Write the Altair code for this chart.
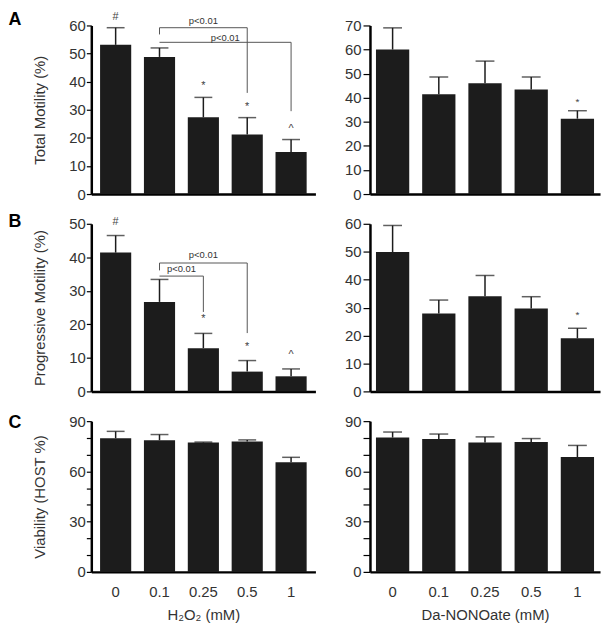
import altair as alt
import pandas as pd

DOSES = ["0", "0.1", "0.25", "0.5", "1"]

# Panel A: total motility (%)
a_h2o2_mean = [53.1, 48.8, 27.3, 21.2, 15.0]
a_h2o2_upper = [59.2, 52.0, 34.4, 27.2, 19.4]
a_h2o2_sig = ["#", "", "*", "*", "^"]
a_nono_mean = [60.0, 41.4, 46.0, 43.4, 31.3]
a_nono_upper = [69.0, 48.6, 55.2, 48.6, 34.6]
a_nono_sig = ["", "", "", "", "*"]

# Panel B: progressive motility (%)
b_h2o2_mean = [41.4, 26.7, 12.9, 5.9, 4.5]
b_h2o2_upper = [46.5, 33.4, 17.3, 9.2, 6.7]
b_h2o2_sig = ["#", "", "*", "*", "^"]
b_nono_mean = [49.9, 27.9, 34.1, 29.7, 19.0]
b_nono_upper = [59.4, 32.7, 41.5, 33.9, 22.6]
b_nono_sig = ["", "", "", "", "*"]

# Panel C: viability (HOST %)
c_h2o2_mean = [79.8, 78.6, 77.2, 77.8, 65.4]
c_h2o2_upper = [83.9, 82.0, 77.5, 78.8, 68.4]
c_nono_mean = [80.2, 79.4, 77.3, 77.5, 68.6]
c_nono_upper = [83.5, 82.3, 80.6, 79.6, 75.5]
no_sig = ["", "", "", "", ""]

# significance brackets
a_brk_from = ["0.1", "0.1"]
a_brk_to = ["0.5", "1"]
a_brk_level = [59.2, 54.0]
a_brk_left_end = [56.8, 54.0]
a_brk_right_end = [36.0, 29.5]
a_brk_label_y = [61.7, 55.4]
a_brk_text = ["p<0.01", "p<0.01"]

b_brk_from = ["0.1", "0.1"]
b_brk_to = ["0.5", "0.25"]
b_brk_level = [38.3, 34.4]
b_brk_left_end = [36.1, 34.4]
b_brk_right_end = [17.4, 23.7]
b_brk_label_y = [40.6, 36.4]
b_brk_text = ["p<0.01", "p<0.01"]

FONT = "Liberation Sans"
BAR = "#1c1c1c"
LINE = "#555555"


def panel(mean, upper, sig, ymax, width, height, pi, po, ytitle, letter,
          letter_dy, xtitle, show_x, tick_values, label_mod, sig_dy, sig_size,
          cap, tick_size, label_pad, brackets=None):
    df = pd.DataFrame({"dose": DOSES, "mean": mean, "upper": upper, "sig": sig})
    xscale = alt.Scale(domain=DOSES, paddingInner=pi, paddingOuter=po)
    if show_x:
        xaxis = alt.Axis(title=xtitle, labelAngle=0, ticks=False, labelPadding=13,
                         titlePadding=8, domainWidth=2.5, domainColor="black",
                         labelFontSize=15, titleFontSize=15, labelColor="#333",
                         titleColor="#333", titleFontWeight="normal", labelFont=FONT,
                         titleFont=FONT)
    else:
        xaxis = alt.Axis(title="", labels=False, ticks=False, domainWidth=2.5,
                         domainColor="black")
    label_expr = f"datum.value % {label_mod} === 0 ? datum.label : ''"
    yaxis = alt.Axis(title=ytitle, values=tick_values, labelExpr=label_expr,
                     grid=False, tickSize=tick_size, tickWidth=1.2, tickColor="black",
                     labelPadding=label_pad, domainWidth=2.5, domainColor="black",
                     labelFontSize=15, titleFontSize=15, labelColor="#333",
                     titleColor="#333", titleFontWeight="normal", labelFont=FONT,
                     titleFont=FONT, titlePadding=22)
    yscale = alt.Scale(domain=[0, ymax], nice=False, zero=True)

    def X(f):
        return alt.X(f"{f}:N", scale=xscale, axis=xaxis)

    def Y(f):
        return alt.Y(f"{f}:Q", scale=yscale, axis=yaxis)

    base = alt.Chart(df)
    bars = base.mark_bar(color=BAR).encode(x=X("dose"), y=Y("mean"))
    whisk = base.mark_rule(color=BAR, strokeWidth=1.5).encode(
        x=X("dose"), y=Y("mean"), y2=alt.Y2("upper:Q"))
    caps = base.mark_tick(color=BAR, size=cap, thickness=1.5).encode(
        x=X("dose"), y=Y("upper"))
    sigs = base.mark_text(fontSize=sig_size, color="#444", dy=sig_dy,
                          baseline="middle", font=FONT).encode(
        x=X("dose"), y=Y("upper"), text="sig:N")
    letter_layer = alt.Chart(pd.DataFrame({"t": [letter]})).mark_text(
        fontSize=18, fontWeight="bold", font=FONT, color="black",
        baseline="middle", align="center").encode(
        text="t:N", x=alt.value(-77), y=alt.value(letter_dy))
    layers = [bars, whisk, caps, sigs, letter_layer]

    if brackets is not None:
        frm, to, level, lend, rend, laby, txt = brackets
        bdf = pd.DataFrame({"from": frm, "to": to, "level": level, "lend": lend,
                            "rend": rend, "laby": laby, "txt": txt})
        bb = alt.Chart(bdf)
        layers.append(bb.mark_rule(color=LINE, strokeWidth=1).encode(
            x=X("from"), x2=alt.X2("to:N"), y=Y("level")))
        layers.append(bb.mark_rule(color=LINE, strokeWidth=1).encode(
            x=X("from"), y=Y("level"), y2=alt.Y2("lend:Q")))
        layers.append(bb.mark_rule(color=LINE, strokeWidth=1).encode(
            x=X("to"), y=Y("level"), y2=alt.Y2("rend:Q")))
        step = width / (len(DOSES) - pi + 2 * po)
        for i in range(len(frm)):
            span = DOSES.index(to[i]) - DOSES.index(frm[i])
            one = bdf.iloc[[i]]
            layers.append(alt.Chart(one).mark_text(
                fontSize=9.5, color="#333", font=FONT, baseline="middle",
                dx=step * span / 2).encode(x=X("from"), y=Y("laby"), text="txt:N"))

    return alt.layer(*layers).properties(width=width, height=height)


LW, RW = 226, 232
a_l = panel(a_h2o2_mean, a_h2o2_upper, a_h2o2_sig, 60, LW, 170, 0.29, 0.2,
            "Total Motility (%)", "A", -5, "", False, list(range(0, 61, 10)), 10,
            -11, 11, 18, 5, 1,
            (a_brk_from, a_brk_to, a_brk_level, a_brk_left_end, a_brk_right_end,
             a_brk_label_y, a_brk_text))
a_r = panel(a_nono_mean, a_nono_upper, a_nono_sig, 70, RW, 170, 0.28, 0.13,
            "", "", 0, "", False, list(range(0, 71, 10)), 10, -9, 10, 19, 7, 2)
b_l = panel(b_h2o2_mean, b_h2o2_upper, b_h2o2_sig, 50, LW, 169, 0.29, 0.2,
            "Progressive Motility (%)", "B", -2, "", False, list(range(0, 51, 10)),
            10, -14, 11, 18, 5, 1,
            (b_brk_from, b_brk_to, b_brk_level, b_brk_left_end, b_brk_right_end,
             b_brk_label_y, b_brk_text))
b_r = panel(b_nono_mean, b_nono_upper, b_nono_sig, 60, RW, 169, 0.28, 0.13,
            "", "", 0, "", False, list(range(0, 61, 10)), 10, -13, 10, 19, 7, 2)
c_l = panel(c_h2o2_mean, c_h2o2_upper, no_sig, 90, LW, 152, 0.29, 0.2,
            "Viability (HOST %)", "C", 2, "H₂O₂ (mM)", True, list(range(0, 91, 10)),
            30, -12, 11, 18, 5, 1)
c_r = panel(c_nono_mean, c_nono_upper, no_sig, 90, RW, 152, 0.28, 0.13,
            "", "", 0, "Da-NONOate (mM)", True, list(range(0, 91, 10)), 30,
            -12, 11, 19, 7, 2)

chart = alt.concat(a_l, a_r, b_l, b_r, c_l, c_r, columns=2,
                   spacing={"row": 30, "column": 55}, bounds="flush",
                   align="each").properties(
    padding={"left": 0, "top": 0, "right": 5, "bottom": 5},
    background="white",
).configure_view(stroke=None)

chart.save("out.html", embed_options={"renderer": "svg", "actions": False})
